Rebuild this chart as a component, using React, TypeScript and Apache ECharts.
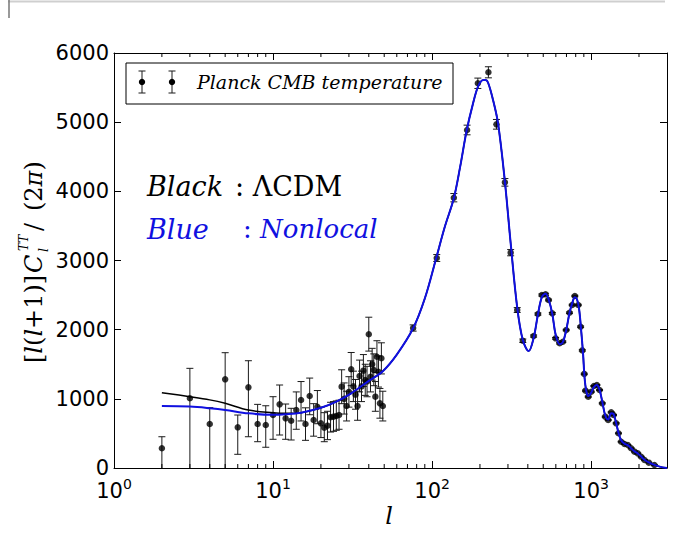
import React, { useEffect, useRef } from 'react';
import * as echarts from 'echarts';

// ---- Low-l Planck points (unbinned) ----
const lowL = [2, 3, 4, 5, 6, 7, 8, 9, 10, 11, 12, 13, 14, 15, 16, 17, 18, 19, 20, 21, 22, 23, 24, 25, 26, 27, 28, 29, 30, 31, 32, 33, 34, 35, 36, 37, 38, 39, 40, 41, 42, 43, 44, 45, 46, 47, 48, 49];
const lowD = [285, 1008, 636, 1282, 588, 1166, 636, 621, 766, 920, 718, 684, 838, 983, 636, 1041, 694, 886, 646, 583, 612, 733, 742, 752, 766, 1176, 1000, 896, 1100, 1427, 1180, 1060, 896, 1330, 1180, 1407, 1272, 1250, 1933, 1320, 1500, 1417, 1031, 1609, 1392, 935, 1586, 896];
const lowLo = [-100, -100, -100, -100, 198, 452, 380, 300, 415, 477, 415, 405, 560, 680, 400, 770, 460, 640, 440, 380, 410, 520, 530, 545, 560, 930, 780, 680, 880, 1190, 960, 850, 690, 1100, 960, 1180, 1050, 1030, 1690, 1100, 1270, 1190, 820, 1380, 1170, 720, 1360, 680];
const lowHi = [452, 1441, 872, 1667, 766, 1551, 920, 900, 1031, 1200, 925, 863, 1100, 1250, 870, 1300, 930, 1120, 880, 800, 820, 950, 960, 970, 980, 1420, 1230, 1110, 1320, 1670, 1400, 1280, 1110, 1560, 1400, 1640, 1500, 1470, 2180, 1550, 1730, 1650, 1250, 1840, 1620, 1150, 1810, 1110];

// ---- High-l Planck binned points ----
const highL = [76, 107, 137, 166, 194, 226, 254, 287, 312, 343, 372, 435, 463, 490, 517, 540, 570, 598, 634, 664, 697, 731, 760, 790, 830, 859, 880, 905, 922, 959, 1002, 1041, 1087, 1130, 1175, 1227, 1280, 1337, 1383, 1437, 1486, 1545, 1622, 1702, 1786, 1875, 1965, 2064, 2167, 2307, 2500];
const highD = [2024, 3036, 3908, 4887, 5562, 5721, 4969, 4130, 3113, 2284, 1840, 1908, 2226, 2501, 2511, 2429, 2236, 1875, 1803, 1826, 1995, 2245, 2357, 2487, 2357, 2043, 1700, 1360, 1118, 1031, 1103, 1185, 1200, 1128, 935, 742, 694, 805, 766, 646, 502, 380, 347, 333, 285, 236, 212, 163, 116, 77, 43];
const highErr = [45, 50, 60, 70, 75, 80, 70, 55, 45, 35, 25, 15, 15, 15, 15, 12, 12, 12, 10, 10, 10, 10, 10, 10, 10, 10, 10, 10, 8, 8, 8, 8, 8, 8, 8, 8, 8, 8, 8, 8, 6, 6, 6, 6, 6, 6, 6, 6, 6, 6, 6];

// ---- Model curves ----
const modelLowL = [2, 3, 4, 5, 7, 10, 12, 15, 20];
const lcdmLowD = [1089, 1031, 985, 935, 838, 800, 792, 800, 870];
const nonlocalLowD = [896, 888, 865, 840, 790, 770, 778, 800, 870];
const modelHighL = [25, 31, 40, 49, 60, 76, 90, 106, 120, 137, 150, 165, 180, 195, 210, 217, 225, 240, 260, 287, 312, 343, 372, 405, 435, 463, 490, 517, 540, 570, 598, 634, 664, 697, 731, 760, 790, 815, 840, 865, 890, 910, 935, 965, 1002, 1041, 1087, 1130, 1175, 1227, 1280, 1337, 1383, 1437, 1486, 1545, 1622, 1702, 1786, 1875, 1965, 2064, 2167, 2307, 2500, 2700, 3000];
const modelHighD = [960, 1080, 1260, 1400, 1640, 2020, 2450, 3030, 3480, 3900, 4350, 4880, 5250, 5520, 5610, 5610, 5570, 5350, 4980, 4140, 3250, 2320, 1850, 1690, 1880, 2220, 2470, 2520, 2440, 2230, 1930, 1790, 1820, 1990, 2240, 2380, 2470, 2440, 2300, 2000, 1650, 1300, 1100, 1040, 1090, 1170, 1200, 1130, 960, 760, 700, 790, 780, 650, 510, 400, 350, 330, 285, 240, 210, 165, 120, 80, 45, 20, 0];

// ---- Axis ticks ----
const minorTickL = [2, 3, 4, 5, 6, 7, 8, 9, 20, 30, 40, 50, 60, 70, 80, 90, 200, 300, 400, 500, 600, 700, 800, 900, 2000];
const X_MIN = 1;
const X_MAX = 3000;
const Y_MIN = 0;
const Y_MAX = 6000;
const Y_STEP = 1000;

const BLUE = '#1010e0';
const SERIF = '"DejaVu Serif", serif';
const SANS = '"DejaVu Sans", sans-serif';

function errRender(params: any, api: any) {
  const l = api.value(0);
  const lo = api.value(1);
  const hi = api.value(2);
  const top = api.coord([l, hi]);
  const bot = api.coord([l, Math.max(lo, 0)]);
  const x = top[0];
  const w = 3.5;
  const st = { stroke: '#1a1a1a', lineWidth: 1 };
  const children: any[] = [
    { type: 'line', shape: { x1: x, y1: top[1], x2: x, y2: bot[1] }, style: st },
    { type: 'line', shape: { x1: x - w, y1: top[1], x2: x + w, y2: top[1] }, style: st },
  ];
  if (lo > 0) {
    children.push({ type: 'line', shape: { x1: x - w, y1: bot[1], x2: x + w, y2: bot[1] }, style: st });
  }
  return { type: 'group', children };
}

function minorRender(params: any, api: any) {
  const x = api.coord([api.value(0), 0])[0];
  const cs = params.coordSys;
  const yb = cs.y + cs.height;
  const yt = cs.y;
  const st = { stroke: '#000', lineWidth: 1 };
  return {
    type: 'group',
    children: [
      { type: 'line', shape: { x1: x, y1: yb, x2: x, y2: yb - 4 }, style: st },
      { type: 'line', shape: { x1: x, y1: yt, x2: x, y2: yt + 4 }, style: st },
    ],
  };
}

function buildOption() {
  const lcdm = [
    ...modelLowL.map((l, i) => [l, lcdmLowD[i]]),
    ...modelHighL.map((l, i) => [l, modelHighD[i]]),
  ];
  const nonlocal = [
    ...modelLowL.map((l, i) => [l, nonlocalLowD[i]]),
    ...modelHighL.map((l, i) => [l, modelHighD[i]]),
  ];
  const lowErr = lowL.map((l, i) => [l, lowLo[i], lowHi[i]]);
  const highErrData = highL.map((l, i) => [l, highD[i] - highErr[i], highD[i] + highErr[i]]);
  const points = [
    ...lowL.map((l, i) => [l, lowD[i]]),
    ...highL.map((l, i) => [l, highD[i]]),
  ];

  const tickStyle = { color: '#000', width: 1 };
  const lineStyle = { color: '#000', width: 1 };

  return {
    animation: false,
    backgroundColor: '#fff',
    grid: { left: 114, top: 53, width: 553, height: 415, containLabel: false },
    xAxis: [
      {
        type: 'log',
        logBase: 10,
        min: X_MIN,
        max: X_MAX,
        axisLine: { show: true, onZero: false, lineStyle },
        axisTick: { show: true, inside: true, length: 7, lineStyle: tickStyle },
        splitLine: { show: false },
        axisLabel: {
          margin: 9,
          showMaxLabel: false,
          formatter: (v: number) => `{b|10}{s|${Math.round(Math.log10(v))}}`,
          rich: {
            b: { fontSize: 21, fontFamily: SANS, color: '#000', verticalAlign: 'bottom', lineHeight: 24 },
            s: { fontSize: 14, fontFamily: SANS, color: '#000', verticalAlign: 'top', lineHeight: 14 },
          },
        },
      },
      {
        type: 'log',
        logBase: 10,
        min: X_MIN,
        max: X_MAX,
        position: 'top',
        axisLine: { show: true, onZero: false, lineStyle },
        axisTick: { show: true, inside: true, length: 7, lineStyle: tickStyle },
        axisLabel: { show: false },
        splitLine: { show: false },
      },
    ],
    yAxis: [
      {
        type: 'value',
        min: Y_MIN,
        max: Y_MAX,
        interval: Y_STEP,
        axisLine: { show: true, onZero: false, lineStyle },
        axisTick: { show: true, inside: true, length: 7, lineStyle: tickStyle },
        splitLine: { show: false },
        axisLabel: { fontSize: 21, fontFamily: SANS, color: '#000', margin: 5, formatter: (v: number) => String(v) },
      },
      {
        type: 'value',
        min: Y_MIN,
        max: Y_MAX,
        interval: Y_STEP,
        position: 'right',
        axisLine: { show: true, onZero: false, lineStyle },
        axisTick: { show: true, inside: true, length: 7, lineStyle: tickStyle },
        axisLabel: { show: false },
        splitLine: { show: false },
      },
    ],
    series: [
      {
        type: 'custom',
        name: 'minorTicks',
        silent: true,
        renderItem: minorRender,
        data: minorTickL.map((v) => [v, 0]),
        encode: { x: 0, y: 1 },
        z: 10,
      },
      {
        type: 'custom',
        name: 'lowErr',
        silent: true,
        renderItem: errRender,
        data: lowErr,
        encode: { x: 0, y: [1, 2] },
        z: 3,
      },
      {
        type: 'custom',
        name: 'highErr',
        silent: true,
        renderItem: errRender,
        data: highErrData,
        encode: { x: 0, y: [1, 2] },
        z: 3,
      },
      {
        type: 'scatter',
        name: 'Planck CMB temperature',
        data: points,
        symbol: 'circle',
        symbolSize: 6.5,
        itemStyle: { color: '#000' },
        z: 4,
      },
      {
        type: 'line',
        name: 'LCDM',
        data: lcdm,
        showSymbol: false,
        smooth: 0.35,
        lineStyle: { color: '#000', width: 1.5 },
        z: 5,
      },
      {
        type: 'line',
        name: 'Nonlocal',
        data: nonlocal,
        showSymbol: false,
        smooth: 0.35,
        lineStyle: { color: BLUE, width: 2 },
        z: 6,
      },
    ],
    graphic: [
      // screenshot frame remnants
      { type: 'line', shape: { x1: 8, y1: 1.5, x2: 665, y2: 1.5 }, style: { stroke: '#cfcfcf', lineWidth: 2 }, z: 100 },
      { type: 'line', shape: { x1: 9, y1: 0, x2: 9, y2: 18 }, style: { stroke: '#777', lineWidth: 1.5 }, z: 100 },
      // legend box
      { type: 'rect', shape: { x: 126, y: 63, width: 327, height: 41 }, style: { fill: '#fff', stroke: '#000', lineWidth: 1 }, z: 100 },
      {
        type: 'group',
        z: 101,
        children: [142, 172].flatMap((x) => [
          { type: 'line', shape: { x1: x, y1: 71, x2: x, y2: 93 }, style: { stroke: '#1a1a1a', lineWidth: 1 }, z: 101 },
          { type: 'line', shape: { x1: x - 3.5, y1: 71, x2: x + 3.5, y2: 71 }, style: { stroke: '#1a1a1a', lineWidth: 1 }, z: 101 },
          { type: 'line', shape: { x1: x - 3.5, y1: 93, x2: x + 3.5, y2: 93 }, style: { stroke: '#1a1a1a', lineWidth: 1 }, z: 101 },
          { type: 'circle', shape: { cx: x, cy: 82, r: 3.2 }, style: { fill: '#000' }, z: 102 },
        ]),
      },
      {
        type: 'text', x: 197, y: 82, z: 101,
        style: { text: 'Planck CMB temperature', fontSize: 19, fontStyle: 'italic', fontFamily: SERIF, fill: '#000', align: 'left', verticalAlign: 'middle' },
      },
      // annotations
      {
        type: 'text', x: 147, y: 186, z: 101,
        style: { text: 'Black', fontSize: 27, fontStyle: 'italic', fontFamily: SERIF, fill: '#000', align: 'left', verticalAlign: 'middle' },
      },
      {
        type: 'text', x: 235, y: 186, z: 101,
        style: { text: ': ΛCDM', fontSize: 27, fontFamily: SERIF, fill: '#000', align: 'left', verticalAlign: 'middle' },
      },
      {
        type: 'text', x: 147, y: 229, z: 101,
        style: { text: 'Blue', fontSize: 27, fontStyle: 'italic', fontFamily: SERIF, fill: BLUE, align: 'left', verticalAlign: 'middle' },
      },
      {
        type: 'text', x: 243, y: 229, z: 101,
        style: {
          text: '{r|: }{i|Nonlocal}',
          fontSize: 26, fontFamily: SERIF, fill: BLUE, align: 'left', verticalAlign: 'middle',
          rich: {
            r: { fontSize: 26, fontFamily: SERIF, fill: BLUE },
            i: { fontSize: 26, fontFamily: SERIF, fontStyle: 'italic', fill: BLUE },
          },
        },
      },
      // x axis name
      {
        type: 'text', x: 389, y: 516, z: 101,
        style: { text: 'l', fontSize: 24, fontStyle: 'italic', fontFamily: SERIF, fill: '#000', align: 'center', verticalAlign: 'middle' },
      },
      // y axis name (rotated)
      {
        type: 'text', x: 34, y: 363, rotation: Math.PI / 2, z: 101,
        style: {
          text: '{r|[}{i|l}{r|(}{i|l}{r|+1)]}',
          fontSize: 24, fontFamily: SERIF, fill: '#000', align: 'left', verticalAlign: 'middle',
          rich: {
            r: { fontSize: 24, fontFamily: SERIF, fill: '#000' },
            i: { fontSize: 24, fontFamily: SERIF, fontStyle: 'italic', fill: '#000' },
          },
        },
      },
      {
        type: 'text', x: 34, y: 273, rotation: Math.PI / 2, z: 101,
        style: { text: 'C', fontSize: 24, fontStyle: 'italic', fontFamily: SERIF, fill: '#000', align: 'left', verticalAlign: 'middle' },
      },
      {
        type: 'text', x: 24, y: 251, rotation: Math.PI / 2, z: 101,
        style: { text: 'TT', fontSize: 12, fontStyle: 'italic', fontFamily: SERIF, fill: '#000', align: 'left', verticalAlign: 'middle' },
      },
      {
        type: 'text', x: 43, y: 252, rotation: Math.PI / 2, z: 101,
        style: { text: 'l', fontSize: 13, fontStyle: 'italic', fontFamily: SERIF, fill: '#000', align: 'left', verticalAlign: 'middle' },
      },
      {
        type: 'text', x: 34, y: 231, rotation: Math.PI / 2, z: 101,
        style: { text: '/', fontSize: 24, fontFamily: SERIF, fill: '#000', align: 'left', verticalAlign: 'middle' },
      },
      {
        type: 'text', x: 34, y: 211, rotation: Math.PI / 2, z: 101,
        style: {
          text: '{r|(2}{i|π}{r|)}',
          fontSize: 24, fontFamily: SERIF, fill: '#000', align: 'left', verticalAlign: 'middle',
          rich: {
            r: { fontSize: 24, fontFamily: SERIF, fill: '#000' },
            i: { fontSize: 24, fontFamily: SERIF, fontStyle: 'italic', fill: '#000' },
          },
        },
      },
    ],
  };
}

export default function App() {
  const ref = useRef<HTMLDivElement>(null);
  useEffect(() => {
    if (!ref.current) return;
    const chart = echarts.init(ref.current, null, { renderer: 'svg' });
    chart.setOption(buildOption() as any);
    return () => {
      chart.dispose();
    };
  }, []);
  return (
    <div
      ref={ref}
      style={{ position: 'fixed', left: 0, top: 0, width: 681, height: 533, background: '#fff' }}
    />
  );
}
